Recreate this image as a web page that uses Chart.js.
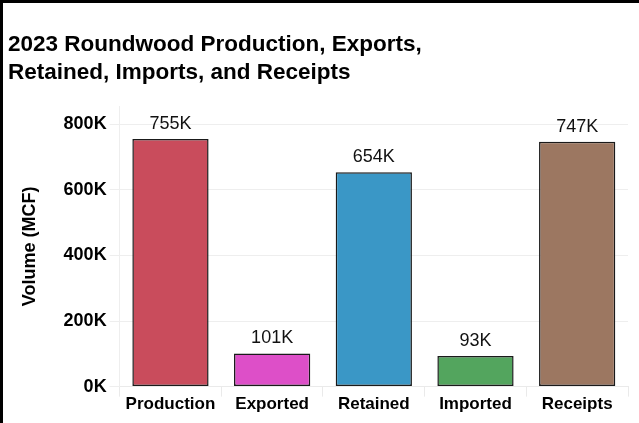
<!DOCTYPE html>
<html>
<head>
<meta charset="utf-8">
<script src="https://cdn.jsdelivr.net/npm/chart.js@4"></script>
<style>
html, body { margin: 0; padding: 0; background: #fff; }
#marco { width: 636px; height: 420px; border-top: 3px solid #000; border-left: 3px solid #000; }
</style>
</head>
<body>
<div id="marco"><canvas id="grafico" width="636" height="420"></canvas></div>
<script>

// ==============================
// DATOS
// ==============================

const categorias = ["Production", "Exported", "Retained", "Imported", "Receipts"];
const volumen = [755000, 101000, 654000, 93000, 747000];
const etiquetas = ["755K", "101K", "654K", "93K", "747K"];
const colores = ["#c94c5c", "#dd4fc8", "#3a97c6", "#53a55e", "#9c7761"];
const ticksY = [0, 200000, 400000, 600000, 800000];

const fuente = "'Liberation Sans', Arial, sans-serif";

// ==============================
// PLUGIN ETIQUETAS
// ==============================

const etiquetasBarras = {
  id: "etiquetasBarras",
  afterDatasetsDraw(chart) {
    const ctx = chart.ctx;
    const meta = chart.getDatasetMeta(0);
    ctx.save();
    ctx.font = "18px " + fuente;
    ctx.fillStyle = "#111";
    ctx.textAlign = "center";
    ctx.textBaseline = "alphabetic";
    meta.data.forEach((bar, i) => {
      ctx.fillText(etiquetas[i], bar.x, bar.y - 10);
    });
    ctx.restore();
  }
};

// ==============================
// GRAFICO
// ==============================

const ctx = document.getElementById("grafico").getContext("2d");

new Chart(ctx, {
  type: "bar",
  data: {
    labels: categorias,
    datasets: [{
      data: volumen,
      backgroundColor: colores,
      borderColor: "#1a1a1a",
      borderWidth: 1.5,
      borderSkipped: false,
      barPercentage: 0.75,
      categoryPercentage: 1
    }]
  },
  options: {
    responsive: false,
    animation: false,
    layout: { padding: { left: 5, right: 11, top: 0, bottom: 10 } },
    plugins: {
      legend: { display: false },
      tooltip: { enabled: false },
      title: {
        display: true,
        text: ["2023 Roundwood Production, Exports,", "Retained, Imports, and Receipts"],
        align: "start",
        color: "#000",
        font: { family: fuente, size: 22.5, weight: "bold", lineHeight: 1.25 },
        padding: { top: 28, bottom: 19 }
      }
    },
    scales: {
      x: {
        grid: { display: true, drawOnChartArea: false, drawTicks: true, tickLength: 10, color: "#eaeaea", offset: true },
        border: { display: true, color: "#eaeaea" },
        ticks: { color: "#000", font: { family: fuente, size: 17, weight: "bold" }, padding: -2, maxRotation: 0 }
      },
      y: {
        min: 0,
        max: 855000,
        afterBuildTicks: (escala) => {
          escala.ticks = ticksY.map(v => ({ value: v }));
        },
        grid: { color: "#eeeeee", tickLength: 10 },
        border: { display: true, color: "#eeeeee" },
        ticks: {
          color: "#000",
          font: { family: fuente, size: 18, weight: "bold" },
          padding: 3,
          callback: (v) => (v / 1000) + "K"
        },
        title: {
          display: true,
          text: "Volume (MCF)",
          color: "#000",
          font: { family: fuente, size: 18, weight: "bold" },
          padding: { top: 11, bottom: 20 }
        }
      }
    }
  },
  plugins: [etiquetasBarras]
});

</script>
</body>
</html>
